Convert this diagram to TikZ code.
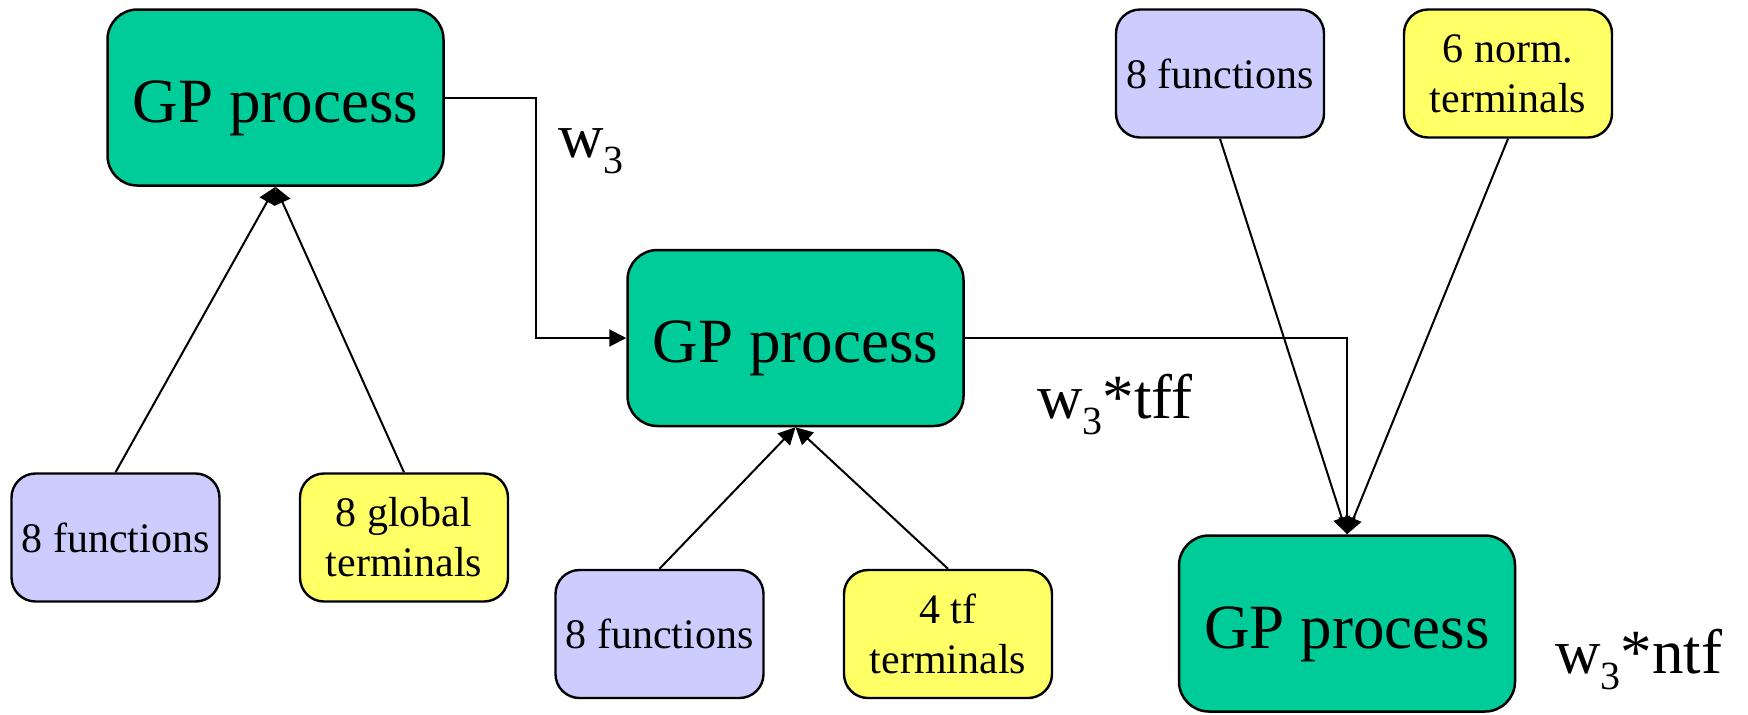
\documentclass[tikz,border=0pt]{standalone}
\usepackage{fontspec}
\setmainfont{Liberation Serif}
\usetikzlibrary{arrows.meta}
\definecolor{gpgreen}{HTML}{00CC99}
\definecolor{funcblue}{HTML}{CCCCFF}
\definecolor{termyellow}{HTML}{FFFF66}
\tikzset{
  gpbox/.style={draw=black, line width=1.25pt, fill=gpgreen, rounded corners=15pt,
    minimum width=168pt, minimum height=88pt, inner sep=0pt,
    text height=24.5pt, text depth=0pt,
    font=\fontsize{31.5}{36}\selectfont},
  smallbox/.style={draw=black, line width=1.2pt, rounded corners=12pt,
    minimum width=104pt, minimum height=64pt, inner sep=0pt, align=center,
    font=\fontsize{21}{25}\selectfont},
  funcbox/.style={smallbox, fill=funcblue},
  termbox/.style={smallbox, fill=termyellow},
  link/.style={line width=1pt, -{Triangle[length=8.5pt,width=8.5pt]}},
  weight/.style={inner sep=0pt, anchor=base west, font=\fontsize{31.5}{36}\selectfont}
}
\newcommand{\wsub}{w\raisebox{-8pt}{\fontsize{20}{20}\selectfont 3}}
\begin{document}
\begin{tikzpicture}[x=0.5pt, y=-0.5pt]
\useasboundingbox (0,0) rectangle (1748,714);

% process boxes
\node[gpbox] (gp1) at (275.5,97.5) {GP process};
\node[gpbox] (gp2) at (795.5,338) {GP process};
\node[gpbox] (gp3) at (1347,623.5) {GP process};

% function and terminal sets
\node[funcbox] (f1) at (115.5,537.5) {8 functions};
\node[termbox] (g1) at (404,537.5) {8 global\\terminals};
\node[funcbox] (f2) at (659.5,634) {8 functions};
\node[termbox] (t2) at (948,634) {4 tf\\terminals};
\node[funcbox] (f3) at (1220,73.5) {8 functions};
\node[termbox] (n3) at (1508,73.5) {6 norm.\\terminals};

% weights
\node[weight] (l1) at (558,157) {\wsub};
\node[weight] (l2) at (1037,418) {\wsub*tff};
\node[weight] (l3) at (1555,673) {\wsub*ntf};

% inputs
\draw[link] (f1.north) -- (gp1.south);
\draw[link] (g1.north) -- (gp1.south);
\draw[link] (f2.north) -- (gp2.south);
\draw[link] (t2.north) -- (gp2.south);
\draw[link] (f3.south) -- (gp3.north);
\draw[link] (n3.south) -- (gp3.north);

% chaining between processes
\coordinate (k1) at (536,97.5);
\draw[link] (gp1.east) -- (k1) |- (gp2.west);
\draw[link] (gp2.east) -| (gp3.north);
\end{tikzpicture}
\end{document}
